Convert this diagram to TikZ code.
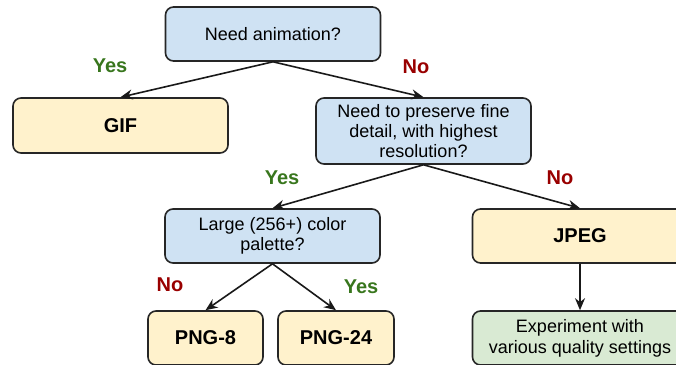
\documentclass[tikz,border=0pt]{standalone}
\usepackage{fontspec}
\setmainfont{Liberation Sans}
\usetikzlibrary{arrows.meta}
\definecolor{qblue}{HTML}{CFE2F3}
\definecolor{ayellow}{HTML}{FFF2CC}
\definecolor{agreen}{HTML}{D9EAD3}
\definecolor{ygreen}{HTML}{38761D}
\definecolor{nred}{HTML}{990000}
\begin{document}
\begin{tikzpicture}[x=1pt,y=-1pt,
  box/.style={draw=black!85, line width=1.6pt, rounded corners=8pt, minimum width=215pt, align=center, inner sep=0pt},
  qbox/.style={box, fill=qblue, font=\fontsize{18}{20}\selectfont},
  abox/.style={box, fill=ayellow, font=\bfseries\fontsize{20}{24}\selectfont},
  gbox/.style={box, fill=agreen, font=\fontsize{18}{21}\selectfont},
  yeslab/.style={text=ygreen, font=\bfseries\fontsize{20}{24}\selectfont},
  nolab/.style={text=nred, font=\bfseries\fontsize{20}{24}\selectfont},
  arr/.style={-{Stealth[length=12pt,width=10pt]}, line width=1.6pt, draw=black!90}]
\useasboundingbox (0,0) rectangle (676,364);
\clip (0,0) rectangle (676,364);
\node[qbox, minimum height=54pt] (anim) at (273,34) {Need animation?};
\node[abox, minimum height=55pt] (gif) at (120.5,125.5) {GIF};
\node[qbox, minimum height=66pt] (fine) at (423.5,131) {Need to preserve fine\\detail, with highest\\resolution?};
\node[qbox, minimum height=54pt] (pal) at (272.5,236) {Large (256+) color\\palette?};
\node[abox, minimum height=54pt] (jpeg) at (580,236) {JPEG};
\node[abox, minimum height=54pt, minimum width=115pt] (png8) at (205.5,338) {PNG-8};
\node[abox, minimum height=54pt, minimum width=116pt] (png24) at (336,338) {PNG-24};
\node[gbox, minimum height=54pt] (exp) at (580,338) {Experiment with\\various quality settings};
\draw[arr] (anim.south) -- (gif.north);
\draw[arr] (anim.south) -- (fine.north);
\draw[arr] (fine.south) -- (pal.north);
\draw[arr] (fine.south) -- (jpeg.north);
\draw[arr] (pal.south) -- (png8.north);
\draw[arr] (pal.south) -- (png24.north);
\draw[arr] (jpeg.south) -- (exp.north);
\node[yeslab] (l1) at (110,66) {Yes};
\node[nolab] (l2) at (416,67) {No};
\node[yeslab] (l3) at (282,178) {Yes};
\node[nolab] (l4) at (560,178) {No};
\node[nolab] (l5) at (170,285) {No};
\node[yeslab] (l6) at (361,287) {Yes};
\end{tikzpicture}
\end{document}
